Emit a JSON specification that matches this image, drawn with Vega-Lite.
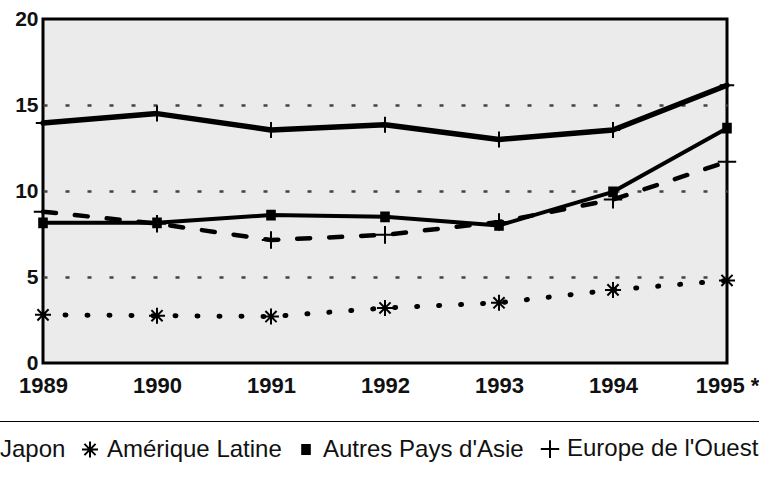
{
  "$schema": "https://vega.github.io/schema/vega-lite/v6.json",
  "width": 684,
  "height": 344,
  "autosize": {"type": "none"},
  "padding": {"left": 43, "top": 19, "right": 32, "bottom": 115},
  "background": "white",
  "config": {
    "font": "Liberation Sans",
    "view": {"stroke": "black", "strokeWidth": 3, "fill": "#ebebeb"},
    "axis": {"domain": false, "ticks": false, "labelFont": "Liberation Sans", "labelFontWeight": "bold", "labelColor": "#111", "title": null}
  },
  "data": {
    "values": [
      {"year": 1989, "series": "Japon", "value": 13.95},
      {"year": 1990, "series": "Japon", "value": 14.5},
      {"year": 1991, "series": "Japon", "value": 13.55},
      {"year": 1992, "series": "Japon", "value": 13.85},
      {"year": 1993, "series": "Japon", "value": 13.0},
      {"year": 1994, "series": "Japon", "value": 13.55},
      {"year": 1995, "series": "Japon", "value": 16.15},
      {"year": 1989, "series": "Amérique Latine", "value": 2.8},
      {"year": 1990, "series": "Amérique Latine", "value": 2.75},
      {"year": 1991, "series": "Amérique Latine", "value": 2.7},
      {"year": 1992, "series": "Amérique Latine", "value": 3.2},
      {"year": 1993, "series": "Amérique Latine", "value": 3.5},
      {"year": 1994, "series": "Amérique Latine", "value": 4.25},
      {"year": 1995, "series": "Amérique Latine", "value": 4.8},
      {"year": 1989, "series": "Autres Pays d'Asie", "value": 8.15},
      {"year": 1990, "series": "Autres Pays d'Asie", "value": 8.15},
      {"year": 1991, "series": "Autres Pays d'Asie", "value": 8.6},
      {"year": 1992, "series": "Autres Pays d'Asie", "value": 8.5},
      {"year": 1993, "series": "Autres Pays d'Asie", "value": 8.0},
      {"year": 1994, "series": "Autres Pays d'Asie", "value": 9.95},
      {"year": 1995, "series": "Autres Pays d'Asie", "value": 13.65},
      {"year": 1989, "series": "Europe de l'Ouest", "value": 8.8},
      {"year": 1990, "series": "Europe de l'Ouest", "value": 8.1},
      {"year": 1991, "series": "Europe de l'Ouest", "value": 7.15},
      {"year": 1992, "series": "Europe de l'Ouest", "value": 7.45},
      {"year": 1993, "series": "Europe de l'Ouest", "value": 8.2},
      {"year": 1994, "series": "Europe de l'Ouest", "value": 9.5},
      {"year": 1995, "series": "Europe de l'Ouest", "value": 11.7}
    ]
  },
  "encoding": {
    "x": {
      "field": "year", "type": "quantitative",
      "scale": {"domain": [1989, 1995], "nice": false, "zero": false},
      "axis": {
        "values": [1989, 1990, 1991, 1992, 1993, 1994, 1995],
        "format": "d",
        "grid": false,
        "labelExpr": "datum.value == 1995 ? '1995 *' : datum.label",
        "labelFontSize": 22,
        "labelPadding": 12,
        "labelFlush": false,
        "labelOverlap": false
      }
    },
    "y": {
      "field": "value", "type": "quantitative",
      "scale": {"domain": [0, 20], "nice": false},
      "axis": {
        "values": [0, 5, 10, 15, 20],
        "labelFontSize": 21,
        "labelPadding": 5,
        "grid": true,
        "gridColor": {"condition": {"test": "datum.value == 0 || datum.value == 20", "value": "transparent"}, "value": "#444444"},
        "gridDash": [4, 18],
        "gridWidth": 2.5
      }
    }
  },
  "layer": [
    {
      "transform": [{"filter": {"field": "series", "equal": "Europe de l'Ouest"}}],
      "mark": {"type": "line", "color": "black", "strokeCap": "round", "strokeJoin": "round", "strokeWidth": 4.5, "strokeDash": [13, 19]}
    },
    {
      "transform": [{"filter": {"field": "series", "equal": "Amérique Latine"}}],
      "mark": {"type": "line", "color": "black", "strokeCap": "round", "strokeJoin": "round", "strokeWidth": 5, "strokeDash": [1, 21]}
    },
    {
      "transform": [{"filter": {"field": "series", "equal": "Autres Pays d'Asie"}}],
      "mark": {"type": "line", "color": "black", "strokeCap": "round", "strokeJoin": "round", "strokeWidth": 4}
    },
    {
      "transform": [{"filter": {"field": "series", "equal": "Japon"}}],
      "mark": {"type": "line", "color": "black", "strokeCap": "round", "strokeJoin": "round", "strokeWidth": 5.5}
    },
    {
      "mark": {"type": "point", "filled": false, "color": "black", "strokeWidth": 2, "opacity": 1, "size": 256},
      "encoding": {
        "shape": {
          "field": "series", "type": "nominal",
          "scale": {
            "domain": ["Japon", "Amérique Latine", "Autres Pays d'Asie", "Europe de l'Ouest"],
            "range": [
              "M-0.9,0H0.9M0,-1V1",
              "M-1,0H1M0,-1V1M-0.7,-0.7L0.7,0.7M-0.7,0.7L0.7,-0.7",
              "M-0.6,-0.55H0.6M-0.6,-0.3H0.6M-0.6,-0.05H0.6M-0.6,0.2H0.6M-0.6,0.45H0.6M-0.6,0.55H0.6",
              "M-1.15,0H1.15M0,-1.1V1.1"
            ]
          },
          "legend": {
            "orient": "none",
            "legendX": -88,
            "legendY": 402,
            "direction": "horizontal",
            "title": null,
            "labelFont": "Liberation Sans",
            "labelFontSize": 24,
            "labelColor": "#111",
            "labelOffset": 5,
            "columnPadding": 12,
            "padding": 16,
            "strokeColor": "black",
            "symbolStrokeColor": "black",
            "symbolStrokeWidth": 2,
            "symbolOpacity": 1,
            "symbolSize": 256,
            "labelLimit": 400,
            "encode": {
              "legend": {"update": {"stroke": {"value": "black"}, "strokeWidth": {"value": 2}}}
            }
          }
        }
      }
    }
  ]
}
